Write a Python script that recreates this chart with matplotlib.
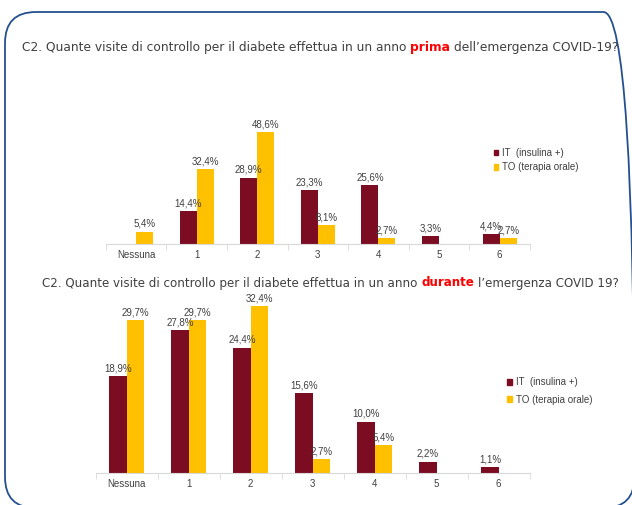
import matplotlib
matplotlib.use('Agg')
import matplotlib.pyplot as plt
from matplotlib.patches import FancyBboxPatch, Patch

categories = ['Nessuna', '1', '2', '3', '4', '5', '6']
prima_it = [0, 14.4, 28.9, 23.3, 25.6, 3.3, 4.4]
prima_to = [5.4, 32.4, 48.6, 8.1, 2.7, 0, 2.7]
durante_it = [18.9, 27.8, 24.4, 15.6, 10.0, 2.2, 1.1]
durante_to = [29.7, 29.7, 32.4, 2.7, 5.4, 0, 0]
legend_labels = ['IT  (insulina +)', 'TO (terapia orale)']
title_prima = ['C2. Quante visite di controllo per il diabete effettua in un anno',
               'prima', 'dell\u2019emergenza COVID-19?']
title_durante = ['C2. Quante visite di controllo per il diabete effettua in un anno',
                 'durante', 'l\u2019emergenza COVID 19?']

RED = '#7b0c22'
YEL = '#ffc000'
GREY = '#404040'
W, H = 632, 505

fig = plt.figure(figsize=(W / 100, H / 100), dpi=100)
fig.patch.set_facecolor('white')

# rounded blue frame, drawn in inches so the corners stay round
frame = FancyBboxPatch((0.05, -0.03), 6.295, 4.96,
                       boxstyle='round,pad=0,rounding_size=0.31',
                       transform=fig.dpi_scale_trans, fill=False,
                       edgecolor='#25508f', linewidth=1.3, clip_on=False)
fig.patches.append(frame)


def rect(x0, y0, x1, y1):
    return [x0 / W, 1 - y1 / H, (x1 - x0) / W, (y1 - y0) / H]


def title(x0, x1, yc, parts):
    r = fig.canvas.get_renderer()
    size = 8.0
    styles = [(GREY, 'normal'), ('#ff0000', 'bold'), (GREY, 'normal')]
    texts = []
    for s, (c, wgt) in zip(parts, styles):
        texts.append(fig.text(0, 1 - yc / H, s, fontsize=size, color=c,
                              fontweight=wgt, va='center', family='DejaVu Sans'))

    def space_w():
        a = fig.text(0, 0, 'x x', fontsize=texts[0].get_fontsize(), family='DejaVu Sans')
        b = fig.text(0, 0, 'xx', fontsize=texts[0].get_fontsize(), family='DejaVu Sans')
        w = a.get_window_extent(r).width - b.get_window_extent(r).width
        a.remove()
        b.remove()
        return w

    total = sum(t.get_window_extent(r).width for t in texts) + 2 * space_w()
    scale = (x1 - x0) / total
    for t in texts:
        t.set_fontsize(size * scale)
    sp = space_w()
    x = x0
    for t in texts:
        t.set_x(x / W)
        x += t.get_window_extent(r).width + sp


def draw(ax, it, to, ymax):
    x = list(range(len(categories)))
    w = 0.28
    b1 = ax.bar([i - w / 2 for i in x], it, w, color=RED)
    b2 = ax.bar([i + w / 2 for i in x], to, w, color=YEL)
    for bars, vals in ((b1, it), (b2, to)):
        for r, v in zip(bars, vals):
            if v > 0:
                ax.annotate(f'{v:.1f}%'.replace('.', ','),
                            (r.get_x() + r.get_width() / 2, v),
                            xytext=(0, 2), textcoords='offset points',
                            ha='center', va='bottom', fontsize=7,
                            color=GREY, family='Liberation Sans')
    ax.set_xlim(-0.5, 6.5)
    ax.set_ylim(0, ymax)
    for s in ['top', 'right', 'left']:
        ax.spines[s].set_visible(False)
    ax.spines['bottom'].set_color('#d9d9d9')
    ax.set_yticks([])
    ax.set_xticks(x, categories)
    ax.set_xticks([i + 0.5 for i in range(-1, 7)], minor=True)
    ax.tick_params(axis='x', which='major', length=0, pad=4.3,
                   labelsize=7, labelcolor=GREY)
    ax.tick_params(axis='x', which='minor', length=4, color='#d9d9d9')
    for lab in ax.get_xticklabels():
        lab.set_family('Liberation Sans')
    ax.patch.set_visible(False)


def legend(x, yc, spacing):
    handles = [Patch(color=RED), Patch(color=YEL)]
    fig.legend(handles, legend_labels, loc='center left',
               bbox_to_anchor=(x / W, 1 - yc / H), frameon=False,
               handlelength=0.5, handleheight=0.5,
               handletextpad=0.35, labelspacing=spacing,
               borderpad=0, borderaxespad=0, labelcolor=GREY,
               prop={'family': 'Liberation Sans', 'size': 7})


ax1 = fig.add_axes(rect(105.7, 244 - 52 * 2.3, 530, 244))
draw(ax1, prima_it, prima_to, 52)

ax2 = fig.add_axes(rect(95.7, 473 - 34 * 5.14, 529.7, 473))
draw(ax2, durante_it, durante_to, 34)

title(22, 621, 47, title_prima)
title(42, 616, 283, title_durante)

legend(493.5, 160, 0.45)
legend(507.5, 391, 0.75)

fig.savefig('out.png', dpi=100)
